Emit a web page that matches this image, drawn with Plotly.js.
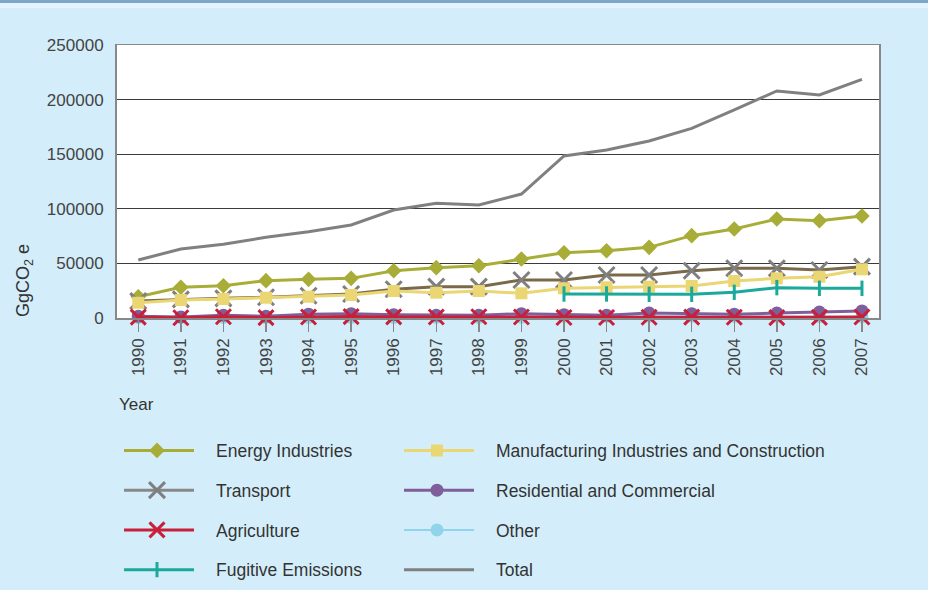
<!DOCTYPE html>
<html>
<head>
<meta charset="utf-8">
<script src="https://cdn.plot.ly/plotly-3.0.1.min.js"></script>
<style>
html,body{margin:0;padding:0;background:#D3EEFA;}
#wrap{position:relative;width:928px;height:590px;overflow:hidden;}
#topbar{position:absolute;left:0;top:0;width:928px;height:3px;background:#7BA7C8;z-index:5;}
#topbar2{position:absolute;left:0;top:3px;width:928px;height:5px;background:#E4F4FC;z-index:5;}
#chart{width:928px;height:590px;}
</style>
</head>
<body>
<div id="wrap">
<div id="topbar"></div><div id="topbar2"></div>
<div id="chart"></div>
</div>
<script>
const years = ["1990","1991","1992","1993","1994","1995","1996","1997","1998","1999","2000","2001","2002","2003","2004","2005","2006","2007"];
const yTicks = [0, 50000, 100000, 150000, 200000, 250000];

const energyIndustries = [19500, 28100, 29600, 34200, 35400, 36300, 43300, 46100, 47900, 54000, 59800, 61600, 64700, 75400, 81500, 90700, 89100, 93400];
const manufacturing = [14000, 16500, 17400, 18600, 19500, 21100, 24700, 23200, 24700, 22600, 27200, 28100, 28700, 29300, 33900, 36300, 37800, 44600];
const transport = [15500, 17100, 18000, 19000, 20400, 22000, 26300, 28700, 28700, 34800, 34800, 39400, 39400, 43300, 45500, 45500, 44000, 47000];
const residential = [1500, 1000, 2500, 1500, 3500, 4000, 3000, 2500, 2500, 4000, 3000, 2500, 4500, 4000, 3500, 4500, 5500, 6500];
const agriculture = [800, 200, 1200, 300, 900, 1300, 1000, 900, 1200, 900, 400, 400, 700, 800, 700, 300, 600, 900];
const other = [500, 500, 500, 500, 500, 500, 500, 500, 500, 800, 1500, 1500, 1500, 1500, 1500, 1500, 1200, 1200];
const fugitive = [null, null, null, null, null, null, null, null, null, null, 22000, 22000, 21700, 21700, 23500, 27800, 27200, 27200];
const total = [53100, 63200, 67500, 73900, 79000, 85200, 98900, 105000, 103500, 113500, 148400, 153800, 162100, 173700, 190500, 207900, 204200, 218600];

function tr(name, y, color, lw, marker, legend, rank, lineColor){
  const t = {
    type:'scatter', mode: marker ? 'lines+markers' : 'lines',
    name:name, x:years, y:y, legend:legend, legendgroup:name, legendrank:rank,
    line:{color:lineColor||color, width:lw},
    cliponaxis:false, connectgaps:false, hoverinfo:'skip'
  };
  if(marker) t.marker = marker;
  return t;
}

const data = [
  tr('Total', total, '#808080', 3, null, 'legend2', 4),
  tr('Energy Industries', energyIndustries, '#A8AD37', 3, {symbol:'diamond', size:12, color:'#A8AD37'}, 'legend', 1),
  tr('Transport', transport, '#7F7F7F', 3, {symbol:'x-thin-open', size:16, color:'#7F7F7F', line:{width:3, color:'#7F7F7F'}}, 'legend', 2, '#7A6A4A'),
  tr('Manufacturing Industries and Construction', manufacturing, '#EAD672', 3, {symbol:'square', size:12, color:'#EAD672'}, 'legend2', 1),
  tr('Fugitive Emissions', fugitive, '#1AA99B', 3, {symbol:'line-ns-open', size:11, color:'#1AA99B', line:{width:3, color:'#1AA99B'}}, 'legend', 4),
  tr('Other', other, '#8FD4EA', 2, {symbol:'circle', size:13, color:'#8FD4EA'}, 'legend2', 3),
  tr('Residential and Commercial', residential, '#7E5F9B', 3, {symbol:'circle', size:13, color:'#7E5F9B'}, 'legend2', 2),
  tr('Agriculture', agriculture, '#C8203A', 3, {symbol:'x-thin-open', size:15, color:'#C8203A', line:{width:3, color:'#C8203A'}}, 'legend', 3)
];

const legFont = {family:'"Liberation Sans", Arial, sans-serif', size:17.5, color:'#333333'};
const layout = {
  width:928, height:590,
  paper_bgcolor:'#D3EEFA', plot_bgcolor:'#FFFFFF',
  margin:{l:117, r:49, t:45, b:272, pad:0, autoexpand:false},
  font:{family:'"Liberation Sans", Arial, sans-serif', color:'#444444'},
  showlegend:true,
  xaxis:{
    type:'category', range:[-0.5, 17.4], tickangle:-90, automargin:false,
    ticks:'outside', ticklen:12, tickwidth:1.5, tickcolor:'#888888',
    tickfont:{size:17, color:'#444444'},
    showline:true, mirror:true, linecolor:'#888888', linewidth:1.5,
    showgrid:false, zeroline:false, fixedrange:true
  },
  yaxis:{
    range:[0, 250000], tickvals:yTicks, ticktext:yTicks.map(String), automargin:false,
    ticks:'outside', ticklen:8, tickcolor:'rgba(0,0,0,0)',
    tickfont:{size:17, color:'#444444'},
    showline:true, mirror:true, linecolor:'#888888', linewidth:2,
    showgrid:true, gridcolor:'#3A3A3A', gridwidth:1, zeroline:false, fixedrange:true
  },
  legend:{
    xref:'container', yref:'container', x:98/928, y:1-432.5/590, xanchor:'left', yanchor:'top',
    orientation:'v', bgcolor:'rgba(0,0,0,0)', borderwidth:0, itemwidth:108,
    tracegroupgap:14, font:legFont, traceorder:'grouped', itemclick:false
  },
  legend2:{
    xref:'container', yref:'container', x:378/928, y:1-432.5/590, xanchor:'left', yanchor:'top',
    orientation:'v', bgcolor:'rgba(0,0,0,0)', borderwidth:0, itemwidth:108,
    tracegroupgap:14, font:legFont, traceorder:'grouped', itemclick:false
  },
  annotations:[
    {xref:'paper', yref:'paper', x:0, y:-86/273, xanchor:'left', yanchor:'middle',
     text:'Year', showarrow:false, font:{size:17, color:'#333333'}},
    {xref:'paper', yref:'paper', x:-93/762, y:(318-281)/273, xanchor:'center', yanchor:'middle',
     text:'GgCO<sub>2</sub> e', textangle:-90, showarrow:false, font:{size:18, color:'#333333'}}
  ]
};

Plotly.newPlot('chart', data, layout, {displayModeBar:false, staticPlot:true}).then(function(gd){
  gd.querySelectorAll('.traces').forEach(function(t){
    const lines = t.querySelectorAll('.legendlines path');
    lines.forEach(function(line){ line.setAttribute('d','M26,0h70'); });
    const txt = t.querySelector('.legendtext');
    if(txt && txt.textContent === 'Transport'){ lines.forEach(function(l){ l.style.stroke = '#888888'; }); }
  });
});
</script>
</body>
</html>
